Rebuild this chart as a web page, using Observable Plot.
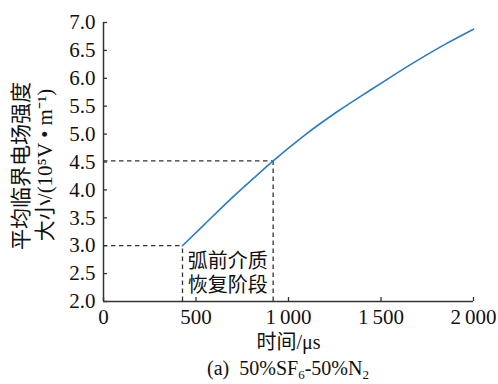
<!DOCTYPE html>
<html>
<head>
<meta charset="utf-8">
<script src="https://cdn.jsdelivr.net/npm/d3@7"></script>
<script src="https://cdn.jsdelivr.net/npm/@observablehq/plot@0.6"></script>
<style>
  html, body { margin: 0; padding: 0; background: #fff; }
  #chart { position: relative; width: 498px; height: 384px; overflow: hidden; }
  #caption {
    position: absolute; left: 103px; width: 370px; top: 357px;
    text-align: center; font-family: "Liberation Serif", "Noto Sans CJK SC", serif;
    font-size: 20px; line-height: 22px; color: #111;
  }
  #caption sub { font-size: 13px; vertical-align: -4px; line-height: 0; }
</style>
</head>
<body>
<div id="chart"></div>
<script>
// Data
const times = [427, 542, 686, 812, 917, 1083, 1263, 1443, 1542, 1677, 1858, 2000];
const field = [3.00, 3.37, 3.83, 4.21, 4.52, 4.97, 5.40, 5.79, 6.00, 6.28, 6.63, 6.88];
const guideT = [427, 917];
const guideE = [3.00, 4.52];
const xTicks = [0, 500, 1000, 1500, 2000];
const yTicks = [2.0, 2.5, 3.0, 3.5, 4.0, 4.5, 5.0, 5.5, 6.0, 6.5, 7.0];
const annotation = "弧前介质\n恢复阶段";
const annotationY = 2.52;
const xTitle = "时间/μs";
const yTitle1 = "平均临界电场强度";
const yTitle2 = "大小/(10⁵V • m⁻¹)";

const curve = times.map((t, i) => ({t, e: field[i]}));
const guides = guideT.map((t, i) => ({t, e: guideE[i]}));
const fmtX = d => d >= 1000 ? `${Math.floor(d / 1000)}\u2009${String(d % 1000).padStart(3, "0")}` : String(d);
const font = "'Liberation Serif', 'Noto Sans CJK SC', serif";
const dash = "4.5,3.5";

const plot = Plot.plot({
  width: 498,
  height: 357,
  marginLeft: 103,
  marginRight: 25,
  marginTop: 22,
  marginBottom: 56,
  style: {fontFamily: font, fontSize: "21px", color: "#111", background: "#fff"},
  x: {domain: [0, 2000]},
  y: {domain: [2, 7]},
  marks: [
    // dashed guides
    Plot.ruleY(guides, {y: "e", x1: 0, x2: "t", stroke: "#333", strokeWidth: 1.3, strokeDasharray: dash}),
    Plot.ruleX(guides, {x: "t", y1: 2, y2: "e", stroke: "#333", strokeWidth: 1.3, strokeDasharray: dash}),
    // axes
    Plot.axisX({ticks: xTicks, tickFormat: fmtX, tickSize: -4, tickPadding: 12, label: null, stroke: "#333", strokeWidth: 1.3, fontSize: 21}),
    Plot.axisY({ticks: yTicks, tickFormat: d => d.toFixed(1), tickSize: -4, tickPadding: 12, label: null, stroke: "#333", strokeWidth: 1.3, fontSize: 21}),
    Plot.ruleX([0], {stroke: "#333", strokeWidth: 1.5}),
    Plot.ruleY([2], {stroke: "#333", strokeWidth: 1.5}),
    // curve
    Plot.line(curve, {x: "t", y: "e", curve: "monotone-x", stroke: "#2a7cc6", strokeWidth: 1.6}),
    // annotation
    Plot.text([annotation], {x: d3.mean(guideT), y: annotationY, text: d => d, fontSize: 20, lineHeight: 1.2, fill: "#111"}),
    // axis titles
    Plot.text([xTitle], {frameAnchor: "bottom", dy: 41, lineAnchor: "middle", textAnchor: "middle", text: d => d, fontSize: 20, fill: "#111"}),
    Plot.text([yTitle1], {frameAnchor: "left", dx: -82, dy: 4, rotate: -90, textAnchor: "middle", lineAnchor: "middle", text: d => d, fontSize: 21, fill: "#111"}),
    Plot.text([yTitle2], {frameAnchor: "left", dx: -58, dy: 3, rotate: -90, textAnchor: "middle", lineAnchor: "middle", text: d => d, fontSize: 21, fill: "#111"})
  ]
});
document.getElementById("chart").appendChild(plot);
const cap = document.createElement("div");
cap.id = "caption";
cap.innerHTML = "(a)&nbsp;&nbsp;50%SF<sub>6</sub>-50%N<sub>2</sub>";
document.getElementById("chart").appendChild(cap);
</script>
</body>
</html>
